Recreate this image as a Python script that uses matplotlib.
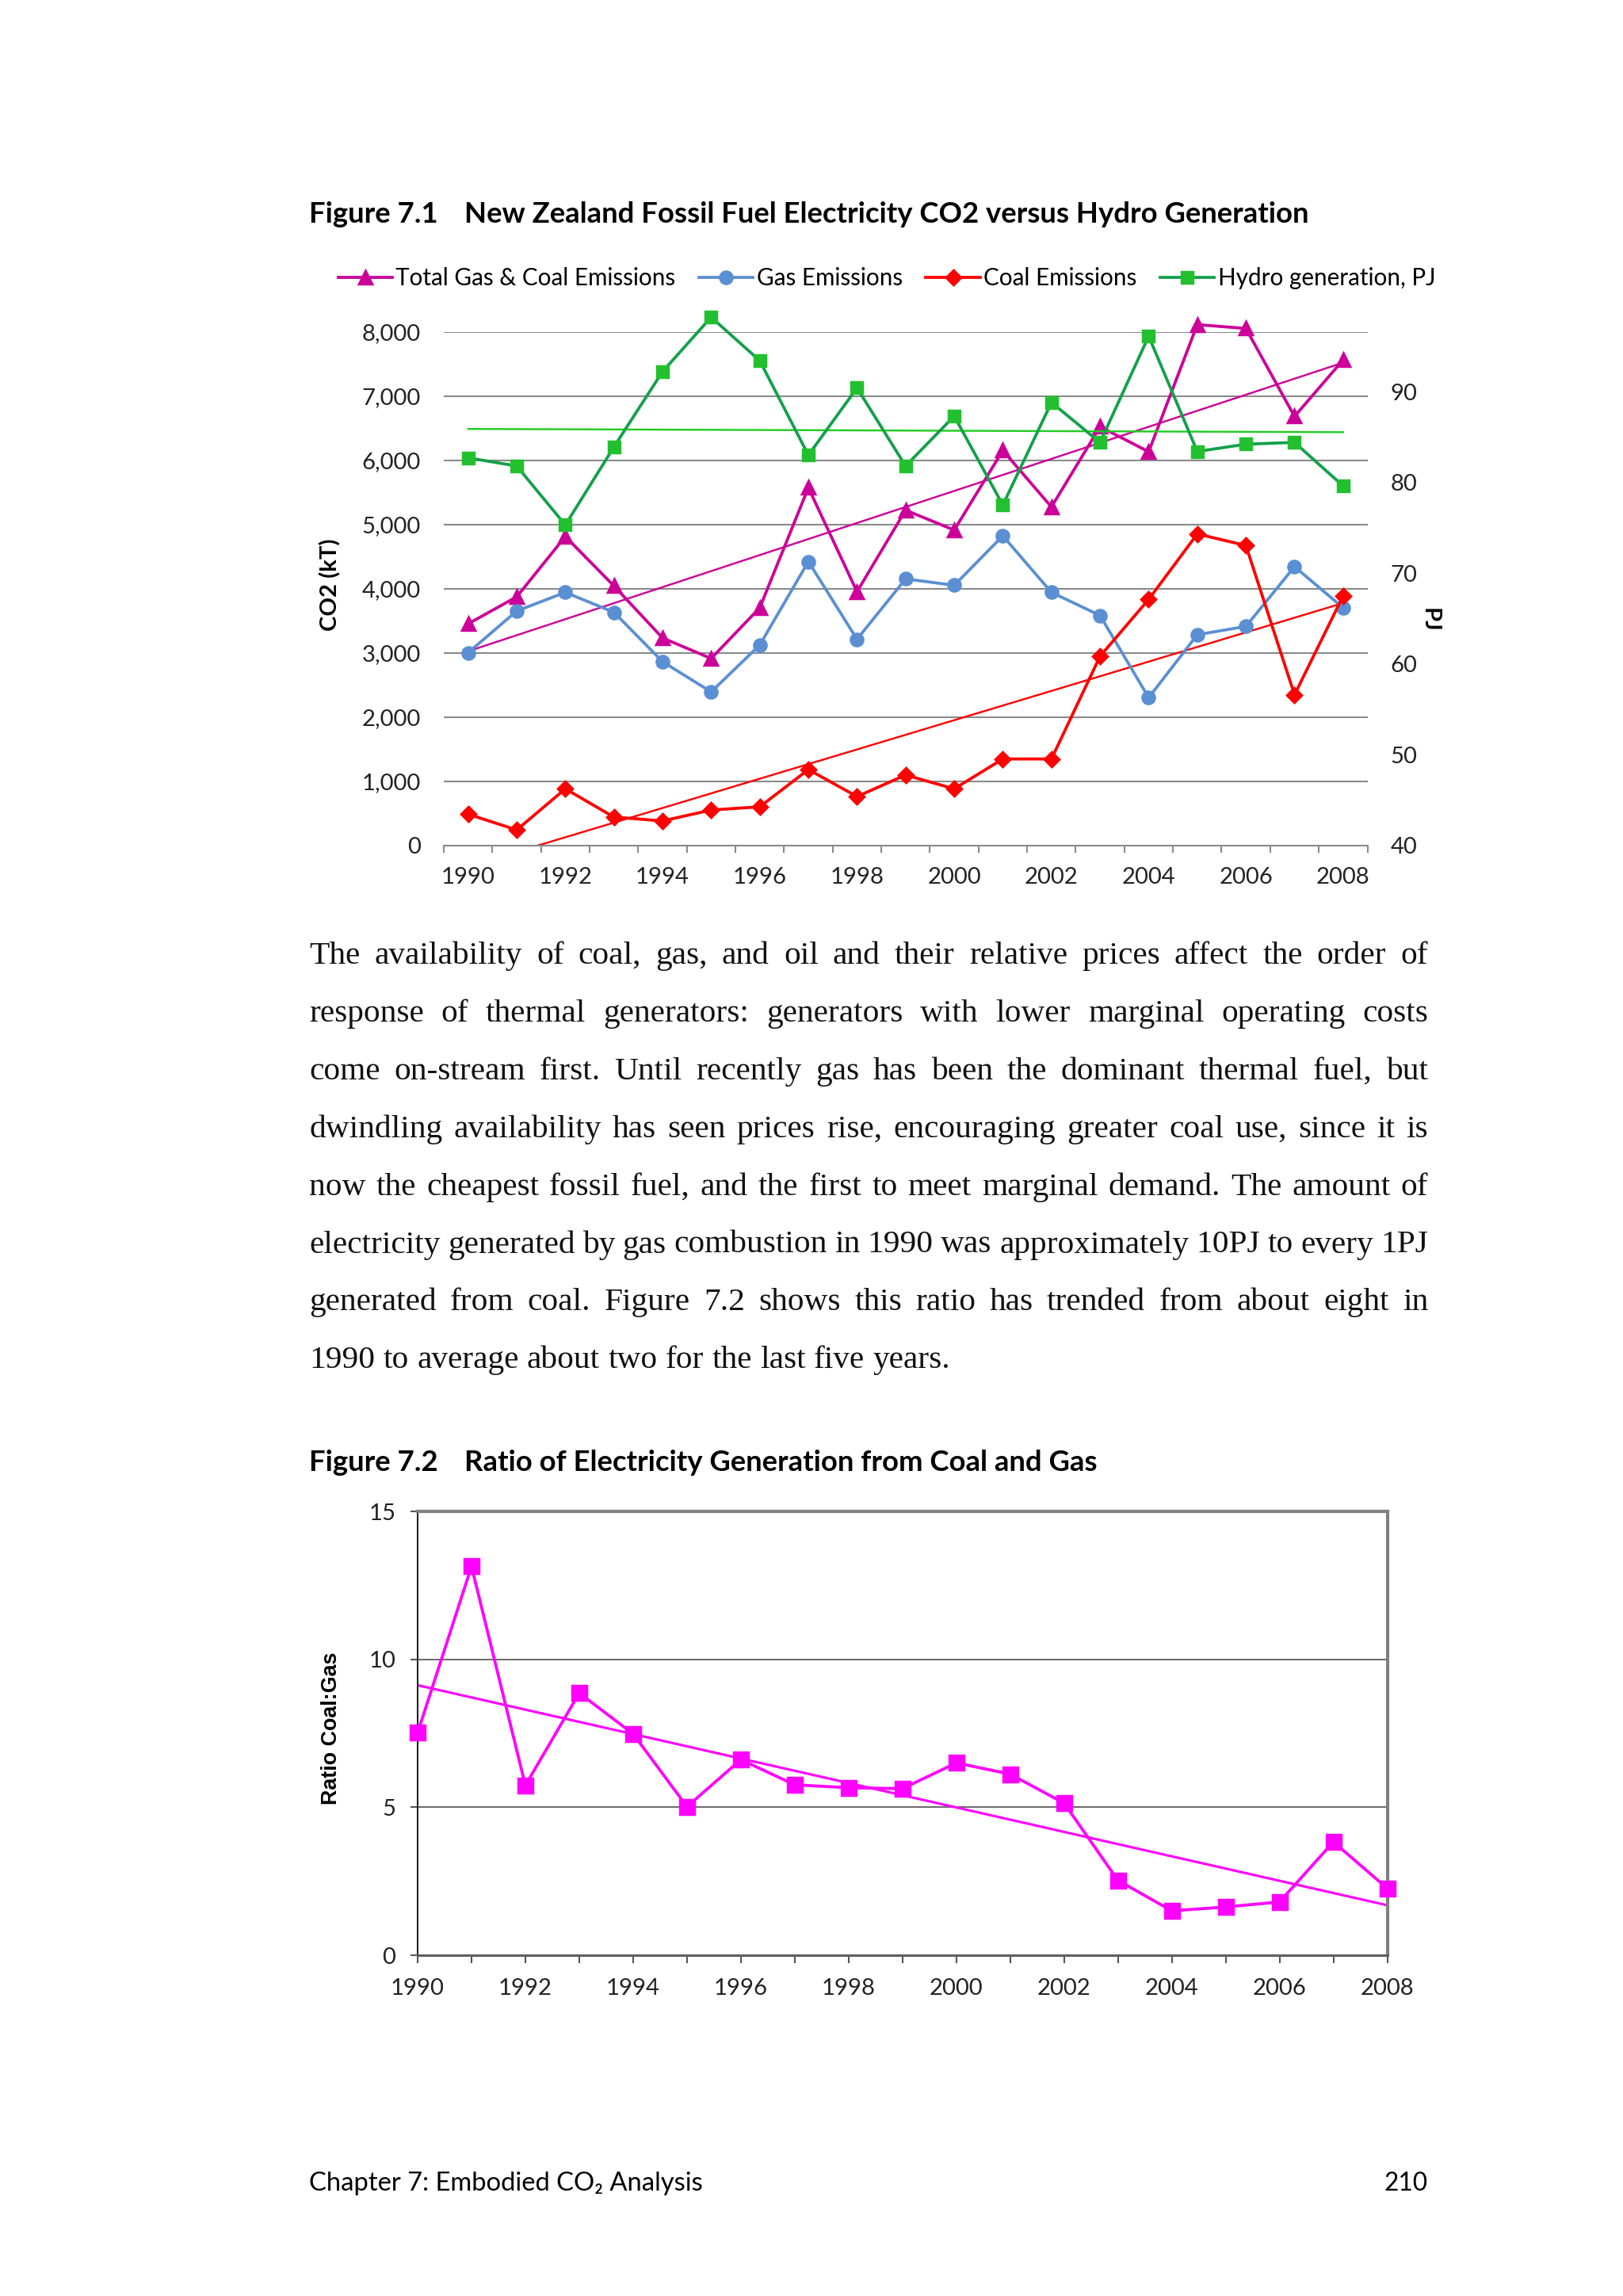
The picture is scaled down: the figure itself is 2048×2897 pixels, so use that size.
"""NZ fossil fuel electricity CO2 vs hydro generation + coal:gas ratio (report page 210)."""
import numpy as np
import matplotlib
matplotlib.use("Agg")
import matplotlib.pyplot as plt
from matplotlib.ticker import FuncFormatter, MultipleLocator

# ---- data ----
years = [1990, 1991, 1992, 1993, 1994, 1995, 1996, 1997, 1998, 1999,
         2000, 2001, 2002, 2003, 2004, 2005, 2006, 2007, 2008]
total_kt = [3450, 3870, 4810, 4040, 3230, 2910, 3700, 5570, 3950, 5220,
            4910, 6150, 5270, 6520, 6130, 8110, 8050, 6680, 7560]
gas_kt = [3000, 3650, 3940, 3630, 2860, 2390, 3120, 4420, 3210, 4150,
          4050, 4820, 3940, 3580, 2300, 3280, 3410, 4340, 3700]
coal_kt = [485, 240, 880, 440, 380, 550, 600, 1180, 760, 1095,
           880, 1345, 1345, 2945, 3830, 4850, 4670, 2345, 3885]
hydro_pj = [82.7, 81.8, 75.3, 83.9, 92.2, 98.2, 93.4, 83.0, 90.4, 81.8,
            87.3, 77.5, 88.8, 84.4, 96.1, 83.4, 84.2, 84.4, 79.6]
ratio = [7.52, 13.14, 5.74, 8.86, 7.48, 5.02, 6.61, 5.76, 5.66, 5.63,
         6.50, 6.12, 5.14, 2.53, 1.50, 1.63, 1.80, 3.83, 2.26]

series_labels = ["Total Gas & Coal Emissions", "Gas Emissions", "Coal Emissions", "Hydro generation, PJ"]

body_lines = [
    "The availability of coal, gas, and oil and their relative prices affect the order of",
    "response of thermal generators: generators with lower marginal operating costs",
    "come on-stream first. Until recently gas has been the dominant thermal fuel, but",
    "dwindling availability has seen prices rise, encouraging greater coal use, since it is",
    "now the cheapest fossil fuel, and the first to meet marginal demand. The amount of",
    "electricity generated by gas combustion in 1990 was approximately 10PJ to every 1PJ",
    "generated from coal. Figure 7.2 shows this ratio has trended from about eight in",
    "1990 to average about two for the last five years.",
]

MAG, BLUE, RED, GREEN, GREEN_MK, GREEN_TR = "#cc0099", "#5b8fd3", "#ff0000", "#13a04a", "#22c02e", "#22cc22"
GRID = "#8a8a8a"

plt.rcParams["font.family"] = ["Lato", "DejaVu Sans"]
W, H, DPI = 2048, 2897, 248
fig = plt.figure(figsize=(W / DPI, H / DPI), dpi=DPI)
fig.patch.set_facecolor("white")


def fx(x): return x / W
def fy(y): return 1 - y / H
def box(l, t, r, b): return [l / W, 1 - b / H, (r - l) / W, (b - t) / H]


def trend(x, y):
    k, c = np.polyfit(x, y, 1)
    return np.polyval([k, c], np.array(x, dtype=float))


# ---- Figure 7.1 ----
fig.text(fx(390), fy(281), "Figure 7.1", fontsize=10.6, weight="bold", va="baseline")
fig.text(fx(586), fy(281), "New Zealand Fossil Fuel Electricity CO2 versus Hydro Generation",
         fontsize=10.6, weight="bold", va="baseline")

ax1 = fig.add_axes(box(560, 418.5, 1725.5, 1066.6))
ax2 = ax1.twinx()
mk = dict(clip_on=False, lw=1.1, zorder=3)
l_tot, = ax1.plot(years, total_kt, color=MAG, marker="^", ms=4.6, **mk)
l_gas, = ax1.plot(years, gas_kt, color=BLUE, marker="o", ms=4.4, **mk)
l_coal, = ax1.plot(years, coal_kt, color=RED, marker="D", ms=3.8, **mk)
ax1.plot(years, trend(years, total_kt), color=MAG, lw=0.7, zorder=2)
ax1.plot(years, trend(years, coal_kt), color=RED, lw=0.7, zorder=2)
l_hyd, = ax2.plot(years, hydro_pj, color=GREEN, marker="s", ms=4.3, mfc=GREEN_MK, mec=GREEN_MK, **mk)
ax2.plot(years, trend(years, hydro_pj), color=GREEN_TR, lw=0.7, zorder=2)

ax1.set_xlim(1989.5, 2008.5)
ax1.set_ylim(0, 8000)
ax2.set_ylim(40, 96.6)
ax1.set_yticks(range(0, 8001, 1000))
ax1.yaxis.set_major_formatter(FuncFormatter(lambda v, p: f"{int(v):,}"))
ax2.set_yticks(range(40, 91, 10))
ax1.set_xticks(years[::2])
ax1.xaxis.set_minor_locator(MultipleLocator(1, offset=0.5))
ax1.yaxis.grid(True, color=GRID, lw=0.6)
ax1.set_axisbelow(True)
for s in ["top", "left", "right"]:
    ax1.spines[s].set_visible(False)
for s in ax2.spines.values():
    s.set_visible(False)
ax1.spines["bottom"].set_color(GRID)
ax1.spines["bottom"].set_linewidth(0.6)
ax1.tick_params(axis="y", length=0, pad=8.5, labelsize=8.5, colors="#222")
ax2.tick_params(axis="y", length=0, pad=8.5, labelsize=8.5, colors="#222")
ax1.tick_params(axis="x", which="major", length=0, pad=8, labelsize=8.5, colors="#222")
ax1.tick_params(axis="x", which="minor", length=2.6, width=0.6, color=GRID)
fig.text(fx(417), fy(738), "CO2 (kT)", rotation=90, fontsize=8.5, weight="bold",
         ha="center", va="center")
fig.text(fx(1804), fy(782), "PJ", rotation=-90, fontsize=8.5, weight="bold",
         ha="center", va="center")

fig.legend([l_tot, l_gas, l_coal, l_hyd], series_labels, loc="center",
           bbox_to_anchor=(fx(1119), fy(351)), ncol=4, frameon=False, fontsize=8.6,
           handlelength=2.3, handletextpad=0.15, columnspacing=1.0, borderpad=0)

# ---- body text, justified ----
rend = fig.canvas.get_renderer()
tkw = dict(family="Liberation Serif", fontsize=12, color="#111")


def justify(lines, x0, x1, y0, dy):
    sp = (fig.text(0, 0, "a a", **tkw).get_window_extent(rend).width
          - fig.text(0, 0, "aa", **tkw).get_window_extent(rend).width)
    for t in fig.texts[-2:]:
        t.remove()
    for i, line in enumerate(lines):
        words = line.split()
        arts = [fig.text(0, fy(y0 + i * dy), w, va="baseline", **tkw) for w in words]
        wid = [a.get_window_extent(rend).width for a in arts]
        gap = sp if i == len(lines) - 1 else (x1 - x0 - sum(wid)) / (len(words) - 1)
        x = x0
        for a, w in zip(arts, wid):
            a.set_x(fx(x))
            x += w + gap


justify(body_lines, 390, 1802, 1216, 72.9)

# ---- Figure 7.2 ----
fig.text(fx(390), fy(1856), "Figure 7.2", fontsize=10.6, weight="bold", va="baseline")
fig.text(fx(586), fy(1856), "Ratio of Electricity Generation from Coal and Gas",
         fontsize=10.6, weight="bold", va="baseline")

ax3 = fig.add_axes(box(527, 1907, 1750.5, 2467))
ax3.plot(years, ratio, color="#ff00ff", lw=1.1, marker="s", ms=5.2, clip_on=False, zorder=3)
ax3.plot(years, trend(years, ratio), color="#ff00ff", lw=0.9, zorder=2)
ax3.set_xlim(1990, 2008)
ax3.set_ylim(0, 15)
ax3.set_yticks([0, 5, 10, 15])
ax3.set_xticks(years[::2])
ax3.xaxis.set_minor_locator(MultipleLocator(1))
ax3.yaxis.grid(True, color="#555555", lw=0.5)
ax3.set_axisbelow(True)
for s in ["top", "right"]:
    ax3.spines[s].set_color("#808080")
    ax3.spines[s].set_linewidth(1.2)
ax3.spines["left"].set_color("#222")
ax3.spines["left"].set_linewidth(0.6)
ax3.spines["bottom"].set_color("#606060")
ax3.spines["bottom"].set_linewidth(0.9)
ax3.tick_params(axis="x", which="both", length=2.8, width=0.6, color="#555", pad=5.5,
                labelsize=8.5, labelcolor="#222")
ax3.tick_params(axis="y", length=2.5, width=0.6, color="#555", pad=5.5, labelsize=8.5,
                labelcolor="#222")
fig.text(fx(418), fy(2181), "Ratio Coal:Gas", rotation=90, family="Liberation Sans",
         fontsize=7.8, weight="bold", ha="center", va="center")

# ---- footer ----
fig.text(fx(390), fy(2764), "Chapter 7: Embodied CO₂ Analysis", fontsize=9.5, va="baseline")
fig.text(fx(1802), fy(2764), "210", fontsize=9.2, va="baseline", ha="right")

fig.savefig("out.png", dpi=DPI, facecolor="white")
print("saved: out.png")
